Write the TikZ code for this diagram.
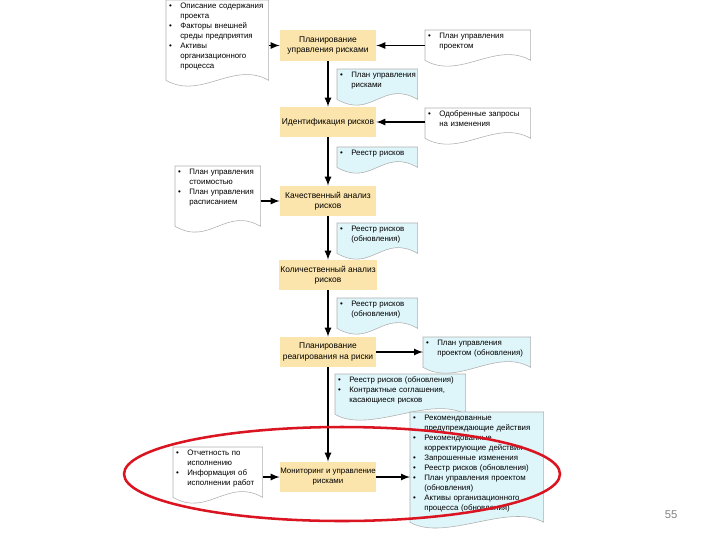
\documentclass[tikz,border=0pt]{standalone}
\usepackage{fontspec}
\setmainfont{Liberation Sans}
\usetikzlibrary{backgrounds}
\setlength{\parindent}{0pt}
\definecolor{procFill}{RGB}{252,229,172}
\definecolor{docFill}{RGB}{222,245,250}
\definecolor{docLine}{RGB}{175,175,175}
\definecolor{ringRed}{RGB}{218,20,32}
\newcommand{\docframe}[2]{\draw[docLine, fill=#2] (#1.north west) -- (#1.north east) -- ([yshift=-5pt]#1.south east) .. controls +(-35,-20) and +(35,20) .. ([yshift=-5pt]#1.south west) -- cycle;}

\begin{document}
\begin{tikzpicture}[x=0.025cm, y=-0.025cm,
    proc/.style={font=\fontsize{6}{7.2}\selectfont, fill=procFill, minimum width=2.4cm, minimum height=0.75cm, align=center, inner sep=1pt},
    doc/.style={font=\fontsize{5.6}{7.1}\selectfont, anchor=north west, text width=#1, inner xsep=2pt, inner ysep=1pt},
    flow/.style={->, >=latex, line width=1.2pt},
    ring/.style={draw=ringRed, line width=1.8pt}]
    \useasboundingbox (0,0) rectangle (720,540);

    \node[proc] (planRisk) at (328,45.5) {Планирование\\управления рисками};
    \node[proc] (identRisk) at (328,122) {Идентификация рисков};
    \node[proc] (qualRisk) at (328,201) {Качественный анализ\\рисков};
    \node[proc] (quantRisk) at (328,275) {Количественный анализ\\рисков};
    \node[proc] (planResp) at (328,352) {Планирование\\реагирования на риски};
    \node[proc, font=\fontsize{5.6}{7.2}\selectfont, inner xsep=0pt] (monitor) at (328,477) {Мониторинг и управление\\рисками};

    \node[doc=2.41cm] (inPlan) at (166,0) {\begin{tabular}{@{}l@{\hspace{6pt}}l@{}}\textbullet & Описание содержания\\ & проекта\\ \textbullet & Факторы внешней\\ & среды предприятия\\ \textbullet & Активы\\ & организационного\\ & процесса\end{tabular}};
    \node[doc=2.485cm] (projPlan) at (425,30) {\begin{tabular}{@{}l@{\hspace{6pt}}l@{}}\textbullet & План управления\\ & проектом\end{tabular}};
    \node[doc=1.86cm] (riskPlan) at (337,69) {\begin{tabular}{@{}l@{\hspace{6pt}}l@{}}\textbullet & План управления\\ & рисками\end{tabular}};
    \node[doc=2.485cm] (changeReq) at (425,108) {\begin{tabular}{@{}l@{\hspace{6pt}}l@{}}\textbullet & Одобренные запросы\\ & на изменения\end{tabular}};
    \node[doc=1.86cm] (register) at (337,147) {\begin{tabular}{@{}l@{\hspace{6pt}}l@{}}\textbullet & Реестр рисков\end{tabular}};
    \node[doc=1.985cm] (costPlan) at (175,166) {\begin{tabular}{@{}l@{\hspace{6pt}}l@{}}\textbullet & План управления\\ & стоимостью\\ \textbullet & План управления\\ & расписанием\\ & \end{tabular}};
    \node[doc=1.86cm] (registerUpd1) at (337,223) {\begin{tabular}{@{}l@{\hspace{6pt}}l@{}}\textbullet & Реестр рисков\\ & (обновления)\end{tabular}};
    \node[doc=1.86cm] (registerUpd2) at (337,298) {\begin{tabular}{@{}l@{\hspace{6pt}}l@{}}\textbullet & Реестр рисков\\ & (обновления)\end{tabular}};
    \node[doc=2.535cm] (projPlanUpd) at (423,337) {\begin{tabular}{@{}l@{\hspace{6pt}}l@{}}\textbullet & План управления\\ & проектом (обновления)\end{tabular}};
    \node[doc=3.11cm] (contracts) at (335,374) {\begin{tabular}{@{}l@{\hspace{6pt}}l@{}}\textbullet & Реестр рисков (обновления)\\ \textbullet & Контрактные соглашения,\\ & касающиеся рисков\end{tabular}};
    \node[doc=3.185cm] (monOut) at (410,412) {\begin{tabular}{@{}l@{\hspace{6pt}}l@{}}\textbullet & Рекомендованные\\ & предупреждающие действия\\ \textbullet & Рекомендованные\\ & корректирующие действия\\ \textbullet & Запрошенные изменения\\ \textbullet & Реестр рисков (обновления)\\ \textbullet & План управления проектом\\ & (обновления)\\ \textbullet & Активы организационного\\ & процесса (обновления)\end{tabular}};
    \node[doc=2.085cm] (perfInfo) at (173,447) {\begin{tabular}{@{}l@{\hspace{6pt}}l@{}}\textbullet & Отчетность по\\ & исполнению\\ \textbullet & Информация об\\ & исполнении работ\end{tabular}};

    \node[text=gray, font=\fontsize{8}{9}\selectfont] (pageNum) at (671,515) {55};

\begin{scope}[on background layer]
\docframe{inPlan}{white}
\docframe{projPlan}{white}
\docframe{riskPlan}{docFill}
\docframe{changeReq}{white}
\docframe{register}{docFill}
\docframe{costPlan}{white}
\docframe{registerUpd1}{docFill}
\docframe{registerUpd2}{docFill}
\docframe{projPlanUpd}{docFill}
\docframe{contracts}{docFill}
\docframe{monOut}{docFill}
\docframe{perfInfo}{white}
\end{scope}

\draw[flow] (planRisk) -- (identRisk);
\draw[flow] (identRisk) -- (qualRisk);
\draw[flow] (qualRisk) -- (quantRisk);
\draw[flow] (quantRisk) -- (planResp);
\draw[flow] (planResp) -- (monitor);
\draw[flow] (inPlan.east |- planRisk) -- (planRisk);
\draw[flow] (projPlan.west |- planRisk) -- (planRisk);
\draw[flow] (changeReq.west |- identRisk) -- (identRisk);
\draw[flow] (costPlan.east |- qualRisk) -- (qualRisk);
\draw[flow] (planResp) -- (projPlanUpd.west |- planResp);
\draw[flow] (perfInfo.east |- monitor) -- (monitor);
\draw[flow] (monitor) -- (monOut.west |- monitor);

\draw[ring] (342,474) ellipse [x radius=218, y radius=47];

\end{tikzpicture}
\end{document}
